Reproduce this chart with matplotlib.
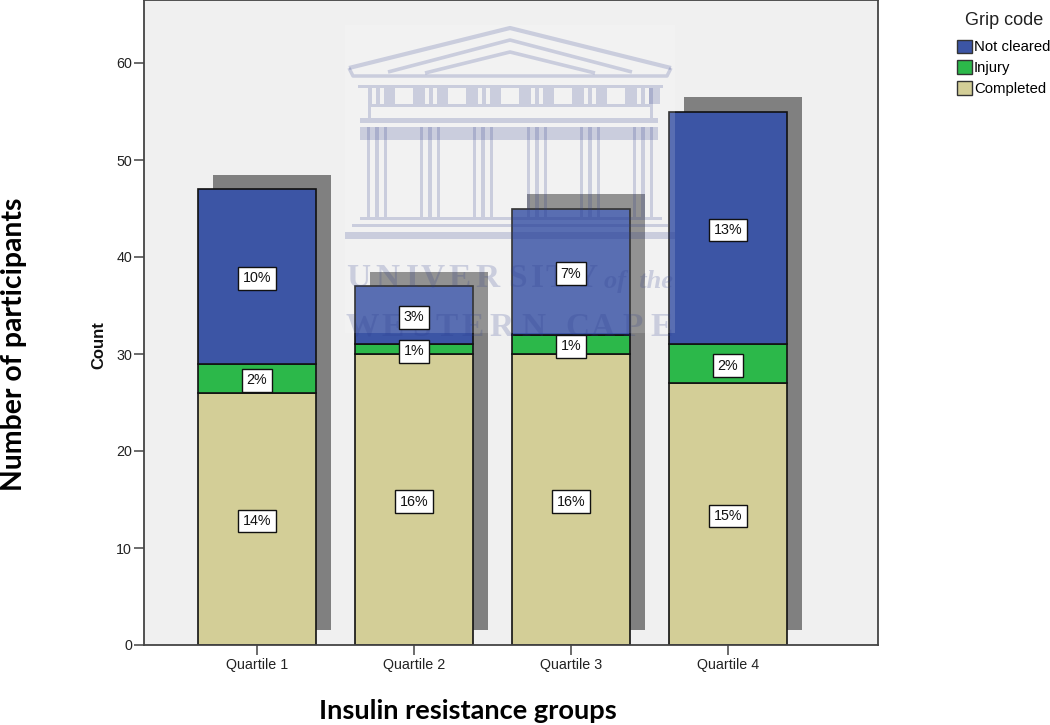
import matplotlib
matplotlib.use('Agg')
import matplotlib.pyplot as plt
import numpy as np
from matplotlib.patches import Patch, Rectangle

plt.rcParams['font.family'] = ['Liberation Sans', 'DejaVu Sans']

groups = ['Quartile 1', 'Quartile 2', 'Quartile 3', 'Quartile 4']
completed = [26, 30, 30, 27]
injury = [3, 1, 2, 4]
not_cleared = [18, 6, 13, 24]
completed_pct = ['14%', '16%', '16%', '15%']
injury_pct = ['2%', '1%', '1%', '2%']
not_cleared_pct = ['10%', '3%', '7%', '13%']
y_ticks = [0, 10, 20, 30, 40, 50, 60]

blue = '#3c55a5'
green = '#2cb84a'
tan = '#d3ce97'
edge = '#111111'
shade = '#2a3a8c'

W, H = 1050, 725
fig = plt.figure(figsize=(W / 100, H / 100), dpi=100)
ax_rect = [144 / W, 1 - 645 / H, (878 - 144) / W, 645 / H]
ax = fig.add_axes(ax_rect)
ax.set_facecolor('#f0f0f0')

x = np.arange(len(groups))
bar_w = 118 / 157
low = np.array(completed)
mid = low + np.array(injury)
top = mid + np.array(not_cleared)

# drop shadow behind each stack
ax.bar(x + 15 / 157, top, bar_w, bottom=1.5, color='#808080', linewidth=0, zorder=1)

ax.bar(x, completed, bar_w, color=tan, edgecolor=edge, linewidth=1.2, zorder=2)
ax.bar(x, injury, bar_w, bottom=low, color=green, edgecolor=edge, linewidth=1.2, zorder=2)
ax.bar(x, not_cleared, bar_w, bottom=mid, color=blue, edgecolor=edge, linewidth=1.2, zorder=2)

ax.set_xlim((144 - 257) / 157, (878 - 257) / 157)
ax.set_ylim(0, 645 / 9.7)
ax.set_xticks(x)
ax.set_xticklabels(groups)
ax.set_yticks(y_ticks)
ax.tick_params(axis='both', length=7.5, width=1.1, color='#444444', labelsize=10.3, labelcolor='#222222')
ax.tick_params(axis='x', pad=1.5)
ax.tick_params(axis='y', pad=1)
for s in ax.spines.values():
    s.set_color('#444444')
    s.set_linewidth(1.3)

# university watermark, in pixel coordinates on top of the chart
wm = fig.add_axes([0, 0, 1, 1], facecolor='none')
wm.set_xlim(0, W)
wm.set_ylim(H, 0)
wm.axis('off')


def band(x0, y0, x1, y1, a=0.2):
    wm.add_patch(Rectangle((x0, y0), x1 - x0, y1 - y0, facecolor=shade, edgecolor='none', alpha=a))


def stroke(xs, ys, lw=2.6):
    wm.plot(xs, ys, color=shade, alpha=0.2, linewidth=lw, solid_capstyle='butt')


wm.add_patch(Rectangle((345, 25), 330, 308, facecolor='white', edgecolor='none', alpha=0.15))

# pediment
stroke([349, 510, 671], [68, 28, 68], 3.0)
stroke([388, 510, 632], [72, 40, 72])
stroke([425, 510, 595], [73, 52, 73])
stroke([349, 353, 667, 671], [68, 76, 76, 68], 2.5)
band(358, 85, 663, 88)
# frieze: solid runs between the windows and the slots
for k in range(6):
    off = 53 * k
    for wx0, wx1 in [(368, 372), (376, 380), (384, 395)]:
        band(wx0 + off, 88, wx1 + off, 104)
    if k < 5:
        band(413 + off, 88, 421 + off, 104)
band(649, 88, 653, 104)
band(368, 104, 653, 107)
band(368, 107, 371, 118)
band(650, 107, 653, 118)
band(360, 118, 658, 123)
band(360, 127, 658, 140)
# columns
for cx in [377, 430, 483, 537, 590, 643]:
    band(cx - 10, 127, cx - 7, 217)
    band(cx - 2, 127, cx + 2, 217)
    band(cx + 7, 127, cx + 10, 217)
# steps
band(360, 217, 662, 220)
band(352, 224, 668, 227)
band(345, 232, 675, 239)

word_font = dict(family=['Liberation Serif', 'DejaVu Serif'], color=shade, alpha=0.2, va='center', ha='center')
for ch, cx in zip('UNIVERSITY', [358, 387, 412, 433, 460, 487, 517, 537, 557, 585]):
    wm.text(cx, 278, ch, fontsize=24, fontweight='bold', **word_font)
wm.text(639, 281, 'of  the', fontsize=19, fontweight='bold', style='italic', **word_font)
for ch, cx in zip('WESTERNCAPE', [362, 393, 422, 447, 473, 502, 533, 577, 603, 633, 662]):
    wm.text(cx, 327, ch, fontsize=24, fontweight='bold', **word_font)

# outer axis titles
wm.text(99, 345, 'Count', rotation=90, ha='center', va='center', fontsize=12, fontweight='bold', color='#111111')
wm.text(14, 344, 'Number of participants', rotation=90, ha='center', va='center', fontsize=20.4,
        fontweight='bold', family=['Lato', 'DejaVu Sans'], color='black')
wm.text(468, 711, 'Insulin resistance groups', ha='center', va='center', fontsize=19.6,
        fontweight='bold', family=['Lato', 'DejaVu Sans'], color='black')

handles = [Patch(facecolor=blue, edgecolor='#333333', label='Not cleared'),
           Patch(facecolor=green, edgecolor='#333333', label='Injury'),
           Patch(facecolor=tan, edgecolor='#333333', label='Completed')]
leg = wm.legend(handles=handles, loc='upper left', bbox_to_anchor=(957 / W, 1 - 39.5 / H), frameon=False,
                fontsize=10.7, borderaxespad=0, borderpad=0, handlelength=1.0, handleheight=1.0,
                handletextpad=0.15, labelspacing=0.42)
wm.text(1004, 20, 'Grip code', ha='center', va='center', fontsize=13, color='#222222')

# percent labels sit above the watermark, so they get their own layer
lab = fig.add_axes(ax_rect, facecolor='none')
lab.set_xlim(ax.get_xlim())
lab.set_ylim(ax.get_ylim())
lab.axis('off')
box = dict(boxstyle='square,pad=0.3', facecolor='white', edgecolor='#111111', linewidth=1.0)


def pct_label(i, y, s):
    lab.annotate(s, (i, y), xytext=(0, -1.5), textcoords='offset points', ha='center', va='center',
                 fontsize=10.3, bbox=box, color='#111111')


for i in x:
    pct_label(i, low[i] / 2, completed_pct[i])
    pct_label(i, low[i] + injury[i] / 2, injury_pct[i])
    pct_label(i, mid[i] + not_cleared[i] / 2, not_cleared_pct[i])

fig.savefig('out.png', dpi=100)
